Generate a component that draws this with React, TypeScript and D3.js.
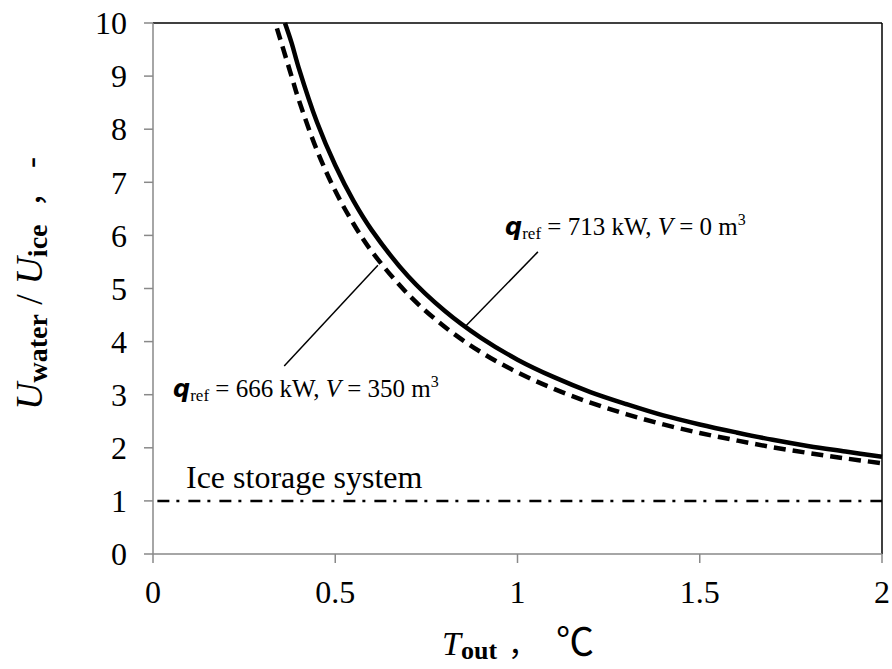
import React from "react";
import * as d3 from "d3";

const xTicks = [0, 0.5, 1, 1.5, 2];
const xTickLabels = ["0", "0.5", "1", "1.5", "2"];
const yTicks = [0, 1, 2, 3, 4, 5, 6, 7, 8, 9, 10];

// q_ref = 713 kW, V = 0 m3 (solid)
const solidX = [0.362, 0.38, 0.4, 0.45, 0.5, 0.55, 0.6, 0.7, 0.8, 0.9, 1.0, 1.1, 1.2, 1.3, 1.4, 1.5, 1.6, 1.7, 1.8, 1.9, 2.0];
const solidY = [10, 9.63, 9.15, 8.13, 7.32, 6.65, 6.1, 5.23, 4.58, 4.07, 3.66, 3.33, 3.05, 2.82, 2.61, 2.44, 2.29, 2.15, 2.03, 1.93, 1.83];

// q_ref = 666 kW, V = 350 m3 (dashed)
const dashedX = [0.34, 0.38, 0.4, 0.45, 0.5, 0.55, 0.6, 0.7, 0.8, 0.9, 1.0, 1.1, 1.2, 1.3, 1.4, 1.5, 1.6, 1.7, 1.8, 1.9, 2.0];
const dashedY = [9.9, 9.0, 8.55, 7.6, 6.84, 6.22, 5.7, 4.89, 4.28, 3.8, 3.42, 3.11, 2.85, 2.63, 2.44, 2.28, 2.14, 2.01, 1.9, 1.8, 1.71];

// Ice storage system reference line
const iceX = [0.012, 2];
const iceY = [1, 1];

// leader lines
const leader713 = [[0.856, 4.28], [1.056, 5.69]];
const leader666 = [[0.617, 5.44], [0.36, 3.54]];

const W = 892;
const H = 669;
const left = 153;
const right = 882;
const top = 23;
const bottom = 554;

const serif = "'Times New Roman', 'Liberation Serif', serif";
const cjk = "'Liberation Serif', 'Noto Sans CJK SC', serif";

export default function App() {
  const x = d3.scaleLinear().domain([0, 2]).range([left, right]);
  const y = d3.scaleLinear().domain([0, 10]).range([bottom, top]);
  const line = d3
    .line<[number, number]>()
    .x((d) => x(d[0]))
    .y((d) => y(d[1]))
    .curve(d3.curveCatmullRom.alpha(0.5));
  const straight = d3
    .line<number[]>()
    .x((d) => x(d[0]))
    .y((d) => y(d[1]));

  const solidPts = solidX.map((v, i) => [v, solidY[i]] as [number, number]);
  const dashedPts = dashedX.map((v, i) => [v, dashedY[i]] as [number, number]);
  const icePts = iceX.map((v, i) => [v, iceY[i]] as [number, number]);

  return (
    <svg
      width={W}
      height={H}
      style={{ position: "absolute", left: 0, top: 0, background: "#fff" }}
    >
      <rect x={0} y={0} width={W} height={H} fill="#fff" />
      {/* frame */}
      <line x1={left} x2={right} y1={top} y2={top} stroke="#000" strokeWidth={1.5} />
      <line x1={right} x2={right} y1={top} y2={bottom} stroke="#000" strokeWidth={1.5} />
      {/* axes */}
      <line x1={left} x2={left} y1={top} y2={bottom} stroke="#898989" strokeWidth={1.5} />
      <line x1={left} x2={right} y1={bottom} y2={bottom} stroke="#898989" strokeWidth={1.5} />
      {yTicks.map((t) => (
        <g key={"y" + t}>
          <line x1={left - 9} x2={left} y1={y(t)} y2={y(t)} stroke="#898989" strokeWidth={1.5} />
          <text
            x={left - 26}
            y={y(t)}
            dy="0.35em"
            textAnchor="end"
            fontFamily={serif}
            fontSize={32}
            fill="#000"
          >
            {t}
          </text>
        </g>
      ))}
      {xTicks.map((t, i) => (
        <g key={"x" + t}>
          <line x1={x(t)} x2={x(t)} y1={bottom} y2={bottom + 9} stroke="#898989" strokeWidth={1.5} />
          <text
            x={x(t)}
            y={603}
            textAnchor="middle"
            fontFamily={serif}
            fontSize={32}
            fill="#000"
          >
            {xTickLabels[i]}
          </text>
        </g>
      ))}

      {/* ice line */}
      <path
        d={straight(icePts) || ""}
        fill="none"
        stroke="#000"
        strokeWidth={2.5}
        strokeDasharray="12 7 3 9"
      />
      {/* curves */}
      <path d={line(dashedPts) || ""} fill="none" stroke="#000" strokeWidth={4.5} strokeDasharray="12 7" />
      <path d={line(solidPts) || ""} fill="none" stroke="#000" strokeWidth={4.5} />

      {/* leaders */}
      <path d={straight(leader713) || ""} stroke="#000" strokeWidth={1.5} fill="none" />
      <path d={straight(leader666) || ""} stroke="#000" strokeWidth={1.5} fill="none" />

      {/* annotations */}
      <text x={505} y={235} fontFamily={serif} fontSize={25} fill="#000">
        <tspan fontStyle="italic" fontWeight="bold" fontFamily="'DejaVu Sans', sans-serif" fontSize={24}>q</tspan>
        <tspan fontSize={17} dy={4}>ref</tspan>
        <tspan dy={-4}> = 713 kW, </tspan>
        <tspan fontStyle="italic">V</tspan>
        <tspan> = 0 m</tspan>
        <tspan fontSize={16} dy={-10}>3</tspan>
      </text>
      <text x={173} y={397} fontFamily={serif} fontSize={25} fill="#000">
        <tspan fontStyle="italic" fontWeight="bold" fontFamily="'DejaVu Sans', sans-serif" fontSize={24}>q</tspan>
        <tspan fontSize={17} dy={4}>ref</tspan>
        <tspan dy={-4}> = 666 kW, </tspan>
        <tspan fontStyle="italic">V</tspan>
        <tspan> = 350 m</tspan>
        <tspan fontSize={16} dy={-10}>3</tspan>
      </text>
      <text x={186} y={488} fontFamily={serif} fontSize={32} fill="#000">
        Ice storage system
      </text>

      {/* x title */}
      <text x={442} y={655} fontFamily={serif} fontSize={34} fill="#000">
        <tspan fontStyle="italic">T</tspan>
        <tspan fontWeight="bold" fontSize={26} dy={4}>out</tspan>
      </text>
      <text x={508} y={655} fontFamily={cjk} fontSize={30} fill="#000">，</text>
      <text x={556} y={655} fontFamily={cjk} fontSize={38} fill="#000">℃</text>

      {/* y title */}
      <text
        transform="translate(42,410) rotate(-90)"
        fontFamily={serif}
        fontSize={38}
        fill="#000"
      >
        <tspan fontStyle="italic">U</tspan>
        <tspan fontWeight="bold" fontSize={28} dy={5}>water</tspan>
        <tspan dy={-5}> / </tspan>
        <tspan fontStyle="italic">U</tspan>
        <tspan fontWeight="bold" fontSize={28} dy={5}>ice</tspan>
      </text>
      <text transform="translate(42,207) rotate(-90)" fontFamily={cjk} fontSize={30} fill="#000">，</text>
      <text transform="translate(42,168) rotate(-90)" fontFamily={serif} fontSize={33} fill="#000">-</text>
    </svg>
  );
}
